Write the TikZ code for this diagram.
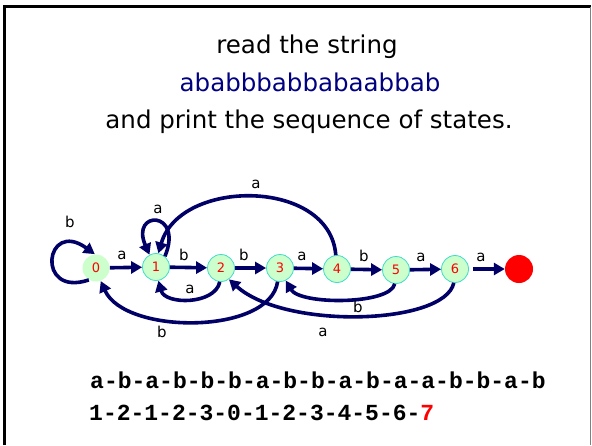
\documentclass[tikz,border=0pt]{standalone}
\usepackage{fontspec}
\setmainfont{DejaVu Sans}
\newfontfamily\monob{Liberation Mono}
\usetikzlibrary{arrows.meta}
\definecolor{navyline}{RGB}{0,0,102}
\definecolor{navytext}{RGB}{0,0,128}
\definecolor{stategreen}{RGB}{204,255,204}
\definecolor{statecyan}{RGB}{60,220,200}
\begin{document}
\begin{tikzpicture}[x=1pt,y=-1pt,
  state/.style={circle,minimum size=27pt,inner sep=0pt,fill=stategreen,draw=statecyan,line width=0.8pt,text=red,font=\fontsize{13}{13}\selectfont},
  finalstate/.style={circle,minimum size=28pt,inner sep=0pt,fill=red},
  arr/.style={draw=navyline,line width=3.6pt,-{Triangle[length=11pt,width=12pt]}},
  lbl/.style={inner sep=0pt,font=\fontsize{15}{15}\selectfont},
  title/.style={inner sep=0pt,anchor=base,font=\fontsize{24.5}{24.5}\selectfont},
  seq/.style={inner sep=0pt,anchor=base west,font=\monob\bfseries\fontsize{23}{23}\selectfont}]
\useasboundingbox (0,0) rectangle (592,445);
% frame
\draw[line width=3pt,black] (4.5,445) -- (4.5,6) -- (591,6);
\draw[line width=1.5pt,gray] (590.5,7) -- (590.5,445);
% titles
\node[title] (t1) at (307,53) {read the string};
\node[title,text=navytext] (t2) at (310,91) {ababbbabbabaabbab};
\node[title] (t3) at (309,128) {and print the sequence of states.};
% states
\node[state,draw=none] (n0) at (96,268) {0};
\node[state] (n1) at (156,267) {1};
\node[state] (n2) at (221,268) {2};
\node[state] (n3) at (280,268) {3};
\node[state] (n4) at (337,269) {4};
\node[state] (n5) at (396,270) {5};
\node[state] (n6) at (455,269) {6};
\node[finalstate] (nf) at (519,269) {};
% straight transitions
\draw[arr] (n0) -- (n1);
\draw[arr] (n1) -- (n2);
\draw[arr] (n2) -- (n3);
\draw[arr] (n3) -- (n4);
\draw[arr] (n4) -- (n5);
\draw[arr] (n5) -- (n6);
\draw[arr,shorten <=4pt] (n6) -- (nf);
% loops and back edges
\draw[arr] (n0.239) .. controls (35,298) and (45,218) .. (n0.95);
\draw[arr] (n1.50) .. controls (184,210) and (130,210) .. (n1.118);
\draw[arr] (n4.95) .. controls (330,178) and (180,178) .. (n1.80);
\draw[arr] (n2.265) .. controls (215,305) and (165,305) .. (n1.280);
\draw[arr] (n3.260) .. controls (270,335) and (125,335) .. (n0.290);
\draw[arr] (n5.265) .. controls (390,305) and (300,305) .. (n3.295);
\draw[arr] (n6.265) .. controls (445,325) and (285,330) .. (n2.305);
% labels
\node[lbl] (lb0) at (70,222) {b};
\node[lbl] (la01) at (122,255) {a};
\node[lbl] (la11) at (158,209) {a};
\node[lbl] (lb12) at (184,255) {b};
\node[lbl] (lb23) at (244,255) {b};
\node[lbl] (la34) at (302,256) {a};
\node[lbl] (lb45) at (364,256) {b};
\node[lbl] (la56) at (421,257) {a};
\node[lbl] (la6f) at (481,257) {a};
\node[lbl] (la41) at (256,184) {a};
\node[lbl] (la21) at (190,289) {a};
\node[lbl] (lb30) at (162,332) {b};
\node[lbl] (lb53) at (358,307) {b};
\node[lbl] (la62) at (323,332) {a};
% sequences
\node[seq] (s1) at (90,388) {a-b-a-b-b-b-a-b-b-a-b-a-a-b-b-a-b};
\node[seq] (s2) at (89,420) {1-2-1-2-3-0-1-2-3-4-5-6-\textcolor{red}{7}};
\end{tikzpicture}
\end{document}
